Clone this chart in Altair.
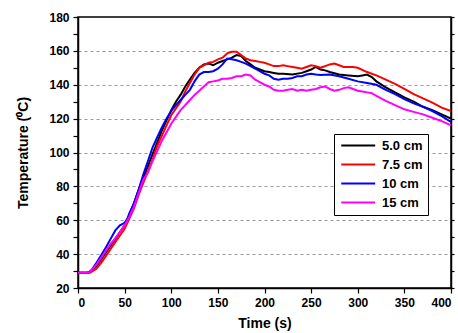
import altair as alt
import pandas as pd

series_names = ["5.0 cm", "7.5 cm", "10 cm", "15 cm"]
series_colors = ["#000000", "#FF0000", "#0000FF", "#FF00FF"]

t_50 = [0, 10, 13, 20, 25, 30, 35, 40, 45, 50, 55, 60, 65, 70, 75, 80, 85, 90, 95, 100,
        105, 110, 115, 120, 125, 130, 135, 140, 145, 150, 155, 160, 165, 170, 175, 180,
        185, 190, 195, 200, 205, 210, 215, 220, 230, 240, 245, 250, 255, 260, 265, 270,
        280, 290, 300, 305, 310, 315, 320, 330, 340, 350, 360, 370, 380, 390, 400]
T_50 = [29, 29, 29.5, 33, 37, 41, 45, 49, 53, 57, 63, 70, 78, 85, 92, 99, 106, 113, 119, 125,
        130, 134, 139, 143, 147, 150, 152, 152.5, 151.5, 153, 154, 155, 156, 157.5, 157, 154,
        152, 150, 149, 148, 147.5, 147, 146.5, 146.5, 146, 147, 148, 149, 150.5, 149, 148.5, 147.5,
        146, 145.5, 145, 145.5, 146, 144.5, 142, 138.5, 135.5, 132.5, 130, 127, 125, 122.5, 120]

t_75 = [0, 10, 13, 20, 25, 30, 35, 40, 45, 50, 55, 60, 65, 70, 75, 80, 85, 90, 95, 100,
        105, 110, 115, 120, 125, 130, 135, 140, 145, 150, 155, 160, 165, 170, 175, 180,
        185, 190, 195, 200, 205, 210, 215, 220, 225, 230, 235, 240, 245, 250, 255, 260,
        265, 270, 275, 280, 285, 290, 295, 300, 310, 320, 330, 340, 350, 360, 370, 380, 390, 400]
T_75 = [29, 29, 29, 31.5, 35, 39, 43, 47, 51, 55, 61, 67, 75, 82, 89, 96, 104, 110, 116, 122,
        126, 130, 136, 141, 146, 150, 151.5, 153, 153.5, 155, 156, 158.5, 159.5, 159.5, 157.5, 155.5,
        154.5, 154, 153.5, 153, 152, 151, 151, 151.5, 151, 150.5, 150, 149.5, 150.5, 151.5, 151, 150,
        151, 152, 152.5, 151.5, 150.5, 150.5, 150.5, 150, 147.5, 145.5, 143, 140.5, 137.5, 134.5, 132, 129.5, 126.5, 124.5]

t_10 = [0, 10, 12, 15, 20, 25, 30, 35, 40, 45, 50, 53, 55, 60, 65, 70, 75, 80, 85, 90, 95, 100,
        105, 110, 115, 120, 125, 130, 135, 140, 145, 150, 155, 160, 165, 170, 175, 180,
        185, 190, 195, 200, 205, 210, 215, 220, 225, 230, 235, 240, 245, 250, 255, 260,
        270, 280, 290, 300, 310, 320, 330, 340, 350, 360, 370, 380, 390, 400]
T_10 = [29, 29, 29.5, 31, 35, 39.5, 44, 49, 54, 57, 58.5, 61, 64, 70, 78, 87, 95, 103, 109, 115, 120, 124.5,
        128, 131, 134, 137, 142, 146, 147.5, 147.5, 148, 149.5, 152, 155.5, 155, 154.5, 153.5, 152.5,
        151, 149.5, 148, 146.5, 145.5, 143.5, 143, 143.5, 143.5, 144, 145, 145, 146, 146.5, 146, 145.8,
        146, 145, 143.5, 142, 141, 140, 137, 134.5, 131.5, 129, 127, 124.5, 121.5, 118]

t_15 = [0, 10, 13, 20, 25, 30, 35, 40, 45, 50, 55, 60, 65, 70, 75, 80, 85, 90, 95, 100,
        105, 110, 115, 120, 125, 130, 135, 140, 145, 150, 155, 160, 165, 170, 175, 180,
        185, 190, 195, 200, 205, 210, 215, 220, 225, 230, 235, 240, 245, 250, 255, 260,
        265, 270, 275, 280, 285, 290, 295, 300, 305, 310, 315, 320, 330, 340, 350, 360, 370, 380, 390, 400]
T_15 = [29, 29, 29.5, 34, 38, 42, 46, 49.5, 53, 57, 62, 68, 76, 84, 88, 95, 101, 107, 112, 117,
        121, 125, 128, 131, 134, 136.5, 139, 141.5, 142, 142.5, 143.5, 143.5, 144, 145, 145, 146,
        145.5, 143, 141.5, 140, 139, 137, 136.5, 136.5, 137, 137.5, 136.5, 137, 136.5, 137, 137.5, 138.5,
        139, 137.5, 136.5, 137, 138, 138.5, 137.5, 136.5, 136, 135.5, 135, 133.5, 130.5, 128, 125.5, 124, 122.5, 120.5, 118.5, 116]

x_ticks = [0, 50, 100, 150, 200, 250, 300, 350, 400]
y_ticks = [20, 30, 40, 50, 60, 70, 80, 90, 100, 110, 120, 130, 140, 150, 160, 170, 180]

frames = []
for name, ts, vs in zip(series_names, [t_50, t_75, t_10, t_15], [T_50, T_75, T_10, T_15]):
    frames.append(pd.DataFrame({"time": ts, "temp": vs, "series": name}))
df = pd.concat(frames, ignore_index=True)

FONT = "Liberation Sans"

x_enc = alt.X("time:Q", scale=alt.Scale(domain=[0, 400], nice=False),
              axis=alt.Axis(values=x_ticks, title="Time (s)", grid=False, tickSize=5,
                            labelPadding=4, titlePadding=8, labelFontSize=12,
                            labelFontWeight="bold", titleFontSize=14, titleFontWeight="bold",
                            labelFont=FONT, titleFont=FONT, domainColor="black",
                            tickColor="black", labelColor="black", titleColor="black",
                            domainWidth=1.5, tickWidth=1.2))

color_enc = alt.Color("series:N",
                      scale=alt.Scale(domain=series_names, range=series_colors),
                      legend=alt.Legend(title=None, orient="none", legendX=256, legendY=117,
                                        strokeColor="black", fillColor="white", padding=5,
                                        symbolType="M-1,0L7,0", symbolSize=72,
                                        symbolStrokeWidth=2, labelOffset=30,
                                        labelFontSize=13, labelFontWeight="bold",
                                        labelFont=FONT, labelColor="black", rowPadding=5))

y_left = alt.Y("temp:Q", scale=alt.Scale(domain=[20, 180], nice=False),
               axis=alt.Axis(values=y_ticks, orient="left", title="Temperature (\u2070C)",
                             labelExpr="datum.value % 20 == 0 ? datum.label : ''",
                             grid=True,
                             gridOpacity={"condition": {"test": "datum.value % 20 == 0 && datum.value > 20 && datum.value < 180", "value": 1}, "value": 0},
                             gridDash=[3, 3], gridColor="#999999", gridWidth=1,
                             tickSize=5, labelPadding=4, titlePadding=18,
                             labelFontSize=12, labelFontWeight="bold", titleFontSize=14,
                             titleFontWeight="bold", labelFont=FONT, titleFont=FONT,
                             domainColor="black", tickColor="black", labelColor="black",
                             titleColor="black", domainWidth=1.5, tickWidth=1.2))

y_right = alt.Y("temp:Q", scale=alt.Scale(domain=[20, 180], nice=False),
                axis=alt.Axis(values=y_ticks, orient="right", title=None, labels=False,
                              grid=False, tickSize=3, domainColor="black", tickColor="black",
                              domainWidth=1.5, tickWidth=1.2))

lines = alt.Chart(df).mark_line(strokeWidth=2, clip=True).encode(
    x=x_enc, y=y_left, color=color_enc, order=alt.Order("time:Q"))

ghost = alt.Chart(df).mark_line(strokeWidth=0, opacity=0).encode(
    x=x_enc, y=y_right, color=color_enc, order=alt.Order("time:Q"))

chart = alt.layer(lines, ghost).resolve_axis(y="independent").properties(
    width=373, height=271,
    autosize=alt.AutoSizeParams(type="none"),
    padding={"left": 78, "top": 17, "right": 7, "bottom": 45},
    background="white",
).configure_view(stroke="black", strokeWidth=1.5)

chart.save("out.html", embed_options={"renderer": "svg", "actions": False})
